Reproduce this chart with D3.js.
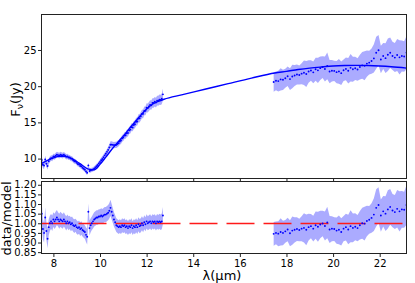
<!DOCTYPE html>
<html>
<head>
<meta charset="utf-8">
<script src="https://cdn.jsdelivr.net/npm/d3@7"></script>
<style>
  body { margin: 0; background: #fff; }
  svg { display: block; font-family: "DejaVu Sans", sans-serif; }
</style>
</head>
<body>
<svg width="415" height="283"></svg>
<script>
// short-wavelength segment (7.5 - 12.7 um)
var lamL = [7.50,7.55,7.60,7.65,7.70,7.75,7.80,7.85,7.90,7.95,
  8.00,8.05,8.10,8.15,8.20,8.25,8.30,8.35,8.40,8.45,
  8.50,8.55,8.60,8.65,8.70,8.75,8.80,8.85,8.90,8.95,
  9.00,9.05,9.10,9.15,9.20,9.25,9.30,9.35,9.40,9.45,
  9.50,9.55,9.60,9.65,9.70,9.75,9.80,9.85,9.90,9.95,
  10.00,10.05,10.10,10.15,10.20,10.25,10.30,10.35,10.40,10.45,
  10.50,10.55,10.60,10.65,10.70,10.75,10.80,10.85,10.90,10.95,
  11.00,11.05,11.10,11.15,11.20,11.25,11.30,11.35,11.40,11.45,
  11.50,11.55,11.60,11.65,11.70,11.75,11.80,11.85,11.90,11.95,
  12.00,12.05,12.10,12.15,12.20,12.25,12.30,12.35,12.40,12.45,
  12.50,12.55,12.60,12.65,12.70];
var fluxL = [9.82,9.15,9.03,9.88,9.28,8.97,9.63,9.90,10.07,10.04,
  10.30,10.25,10.40,10.55,10.48,10.40,10.52,10.47,10.42,10.52,
  10.40,10.26,10.31,10.16,10.16,10.00,9.97,9.78,9.64,9.60,
  9.41,9.25,9.19,8.99,8.93,8.73,8.59,8.45,8.23,8.04,
  9.06,8.29,8.38,8.44,8.51,8.62,8.76,8.94,9.11,9.34,
  9.52,9.78,9.94,10.19,10.45,10.66,10.93,11.20,11.53,11.92,
  11.93,11.90,11.86,11.88,11.89,12.02,12.13,12.37,12.49,12.79,
  12.90,13.17,13.23,13.49,13.55,13.89,14.00,14.34,14.30,14.64,
  14.75,15.09,15.12,15.54,15.57,15.84,16.17,16.18,16.59,16.60,
  17.02,16.98,17.20,17.41,17.37,17.68,17.67,17.84,17.74,18.00,
  17.99,18.14,18.11,18.26,18.87];
var errL = [0.55,0.50,0.48,0.50,0.45,0.48,0.42,0.40,0.38,0.40,
  0.38,0.40,0.42,0.40,0.38,0.40,0.41,0.39,0.40,0.38,
  0.37,0.38,0.36,0.37,0.35,0.36,0.35,0.34,0.35,0.33,
  0.34,0.33,0.32,0.33,0.32,0.31,0.32,0.31,0.33,0.35,
  0.36,0.33,0.31,0.30,0.31,0.31,0.32,0.33,0.33,0.34,
  0.35,0.36,0.37,0.38,0.39,0.40,0.41,0.42,0.44,0.46,
  0.45,0.44,0.44,0.43,0.43,0.44,0.44,0.45,0.46,0.47,
  0.47,0.48,0.49,0.50,0.50,0.51,0.52,0.53,0.53,0.54,
  0.55,0.56,0.56,0.57,0.58,0.58,0.59,0.60,0.60,0.61,
  0.62,0.62,0.63,0.64,0.64,0.65,0.66,0.66,0.67,0.68,
  0.68,0.70,0.72,0.74,0.80];
var ratioL = [1.05,0.97,0.95,1.03,0.96,0.92,0.98,1.00,1.01,1.00,
  1.02,1.01,1.02,1.03,1.02,1.01,1.02,1.015,1.01,1.02,
  1.01,1.00,1.01,1.00,1.005,0.995,1.00,0.99,0.985,0.99,
  0.98,0.975,0.98,0.97,0.975,0.965,0.96,0.955,0.94,0.93,
  1.06,0.975,0.99,1.00,1.01,1.02,1.025,1.03,1.03,1.035,
  1.035,1.04,1.035,1.04,1.045,1.045,1.05,1.055,1.065,1.08,
  1.06,1.04,1.02,1.005,0.99,0.985,0.98,0.985,0.98,0.99,
  0.985,0.99,0.98,0.985,0.975,0.985,0.98,0.99,0.975,0.985,
  0.98,0.99,0.98,0.995,0.985,0.99,1.00,0.99,1.005,0.995,
  1.01,1.00,1.005,1.01,1.00,1.01,1.005,1.01,1.00,1.01,
  1.005,1.01,1.005,1.01,1.04];

// long-wavelength segment (17.45 - 23.15 um)
var lamR = [17.45,17.55,17.65,17.75,17.85,17.95,
  18.05,18.15,18.25,18.35,18.45,18.55,18.65,18.75,18.85,18.95,
  19.05,19.15,19.25,19.35,19.45,19.55,19.65,19.75,19.85,19.95,
  20.05,20.15,20.25,20.35,20.45,20.55,20.65,20.75,20.85,20.95,
  21.05,21.15,21.25,21.35,21.45,21.55,21.65,21.75,21.85,21.95,
  22.05,22.15,22.25,22.35,22.45,22.55,22.65,22.75,22.85,22.95,
  23.05,23.15];
var fluxR = [20.58,20.74,20.70,20.94,20.88,21.10,
  21.37,20.98,21.34,21.47,21.61,21.54,21.73,21.86,21.68,22.03,
  22.17,21.91,22.34,22.19,22.49,22.64,22.37,22.81,22.02,22.13,
  22.11,21.94,22.04,21.80,22.20,22.39,22.13,22.53,22.33,22.47,
  22.31,22.64,22.87,22.81,23.12,23.25,23.47,23.84,24.62,24.96,
  23.68,24.16,23.87,24.35,24.62,24.17,23.95,24.31,23.98,24.17,
  24.10,24.64];
var errR = [1.35,1.30,1.42,1.55,1.40,1.30,
  1.35,1.50,1.62,1.45,1.38,1.30,1.45,1.70,1.80,1.55,
  1.42,1.50,1.60,1.75,1.62,1.50,1.72,1.85,1.60,1.48,
  1.40,1.55,1.70,1.62,1.50,1.58,1.75,1.90,1.72,1.60,
  1.55,1.70,1.85,2.00,1.80,1.65,1.75,1.95,2.20,2.10,
  1.90,1.80,2.05,2.25,2.10,1.95,2.00,2.20,2.35,2.15,
  2.10,2.30];
var ratioR = [0.945,0.950,0.946,0.955,0.950,0.958,
  0.968,0.948,0.962,0.966,0.970,0.965,0.972,0.976,0.966,0.980,
  0.985,0.972,0.990,0.982,0.994,0.999,0.986,1.004,0.968,0.972,
  0.970,0.962,0.966,0.955,0.972,0.980,0.968,0.985,0.976,0.982,
  0.975,0.990,1.000,0.998,1.012,1.018,1.028,1.045,1.080,1.095,
  1.040,1.062,1.050,1.072,1.085,1.066,1.058,1.075,1.062,1.072,
  1.070,1.095];

// model curve
var modelLam = [7.50,7.75,8.00,8.25,8.50,8.75,9.00,9.25,9.50,9.75,
  10.00,10.25,10.50,10.75,11.00,11.25,11.50,11.75,12.00,12.25,12.50,12.75,
  13.50,14.50,15.50,16.50,17.50,18.00,18.50,19.00,19.50,20.00,20.50,
  21.00,21.50,22.00,22.50,23.15];
var modelFlux = [9.35,9.75,10.10,10.30,10.30,10.05,9.60,9.05,8.55,8.45,
  9.20,10.20,11.25,12.20,13.10,14.10,15.05,16.00,16.85,17.50,17.90,18.20,
  18.80,19.57,20.35,21.12,21.82,22.05,22.30,22.50,22.65,22.78,22.85,
  22.88,22.85,22.78,22.68,22.50];

var xTicks = [8, 10, 12, 14, 16, 18, 20, 22];
var fluxTicks = [10, 15, 20, 25];
var ratioTicks = [0.85, 0.90, 0.95, 1.00, 1.05, 1.10, 1.15, 1.20];

var svg = d3.select("svg");
var left = 41.5, right = 406.5,
  top1 = 14.5, bot1 = 178.5,
  top2 = 181.5, bot2 = 253.5;

var xScale = d3.scaleLinear().domain([7.49, 23.15]).range([left, right]);
var yTop = d3.scaleLinear().domain([7.25, 29.9]).range([bot1, top1]);
var yBot = d3.scaleLinear().domain([0.843, 1.217]).range([bot2, top2]);

var defs = svg.append("defs");
defs.append("clipPath").attr("id", "clipTop")
  .append("rect").attr("x", left).attr("y", top1)
  .attr("width", right - left).attr("height", bot1 - top1);
defs.append("clipPath").attr("id", "clipBot")
  .append("rect").attr("x", left).attr("y", top2)
  .attr("width", right - left).attr("height", bot2 - top2);

function points(lam, flux, err, ratio) {
  return lam.map(function (l, i) {
    return { lam: l, flux: flux[i], err: err[i], ratio: ratio[i] };
  });
}
var segments = [points(lamL, fluxL, errL, ratioL), points(lamR, fluxR, errR, ratioR)];
var model = modelLam.map(function (l, i) { return { lam: l, flux: modelFlux[i] }; });

// ---- top panel
var g1 = svg.append("g").attr("clip-path", "url(#clipTop)");

var bandTop = d3.area()
  .x(function (d) { return xScale(d.lam); })
  .y0(function (d) { return yTop(d.flux - d.err); })
  .y1(function (d) { return yTop(d.flux + d.err); });

g1.selectAll(".band")
  .data(segments)
  .enter()
  .append("path")
  .attr("d", bandTop)
  .attr("fill", "#0000ff")
  .attr("fill-opacity", 0.33);

g1.append("path")
  .datum(model)
  .attr("d", d3.line()
    .x(function (d) { return xScale(d.lam); })
    .y(function (d) { return yTop(d.flux); })
    .curve(d3.curveMonotoneX))
  .attr("fill", "none")
  .attr("stroke", "#0000ff")
  .attr("stroke-width", 1.4);

g1.selectAll(".dot")
  .data(segments[0].concat(segments[1]))
  .enter()
  .append("circle")
  .attr("cx", function (d) { return xScale(d.lam); })
  .attr("cy", function (d) { return yTop(d.flux); })
  .attr("r", 0.95)
  .attr("fill", "#0000ff");

// ---- bottom panel
var g2 = svg.append("g").attr("clip-path", "url(#clipBot)");

var bandBot = d3.area()
  .x(function (d) { return xScale(d.lam); })
  .y0(function (d) { return yBot(d.ratio * (1 - d.err / d.flux)); })
  .y1(function (d) { return yBot(d.ratio * (1 + d.err / d.flux)); });

g2.selectAll(".band")
  .data(segments)
  .enter()
  .append("path")
  .attr("d", bandBot)
  .attr("fill", "#0000ff")
  .attr("fill-opacity", 0.33);

var yOne = Math.round(yBot(1)) + 0.5;
g2.append("line")
  .attr("x1", xScale(xScale.domain()[0]))
  .attr("x2", xScale(xScale.domain()[1]))
  .attr("y1", yOne)
  .attr("y2", yOne)
  .attr("stroke", "#ff1a1a")
  .attr("stroke-width", 1.4)
  .attr("stroke-dasharray", "28,9");

g2.selectAll(".dot")
  .data(segments[0].concat(segments[1]))
  .enter()
  .append("circle")
  .attr("cx", function (d) { return xScale(d.lam); })
  .attr("cy", function (d) { return yBot(d.ratio); })
  .attr("r", 0.95)
  .attr("fill", "#0000ff");

// ---- axes
function styleAxis(g) {
  g.attr("font-family", "DejaVu Sans").attr("font-size", 10).attr("color", "#000");
  g.select(".domain").remove();
  g.selectAll(".tick line").attr("stroke", "#222");
}

svg.append("g")
  .attr("transform", "translate(0," + bot1 + ")")
  .call(d3.axisBottom(xScale).tickValues(xTicks).tickFormat("").tickSize(3.5))
  .call(styleAxis);

svg.append("g")
  .attr("transform", "translate(0," + bot2 + ")")
  .call(d3.axisBottom(xScale).tickValues(xTicks).tickSize(3.5).tickPadding(3))
  .call(styleAxis);

svg.append("g")
  .attr("transform", "translate(" + left + ",0)")
  .call(d3.axisLeft(yTop).tickValues(fluxTicks).tickSize(3.5).tickPadding(1.5))
  .call(styleAxis);

svg.append("g")
  .attr("transform", "translate(" + left + ",0)")
  .call(d3.axisLeft(yBot).tickValues(ratioTicks).tickFormat(d3.format(".2f")).tickSize(3.5).tickPadding(1.5))
  .call(styleAxis);

// frames
[[top1, bot1], [top2, bot2]].forEach(function (p) {
  svg.append("rect")
    .attr("x", left).attr("y", p[0])
    .attr("width", right - left).attr("height", p[1] - p[0])
    .attr("fill", "none")
    .attr("stroke", "#222")
    .attr("stroke-width", 1);
});

// labels
var fl = svg.append("text")
  .attr("transform", "translate(20," + ((top1 + bot1) / 2 + 3) + ") rotate(-90)")
  .attr("text-anchor", "middle")
  .attr("font-size", "13px");
fl.append("tspan").text("F");
fl.append("tspan").attr("font-size", "9.5px").attr("dy", "0.3em").text("ν");
fl.append("tspan").attr("dy", "-0.22em").text("(Jy)");

svg.append("text")
  .attr("transform", "translate(10.5," + ((top2 + bot2) / 2 + 1) + ") rotate(-90)")
  .attr("text-anchor", "middle")
  .attr("font-size", "13px")
  .text("data/model");

svg.append("text")
  .attr("x", 222)
  .attr("y", 279.5)
  .attr("text-anchor", "middle")
  .attr("font-size", "13px")
  .text("λ(μm)");
</script>
</body>
</html>
